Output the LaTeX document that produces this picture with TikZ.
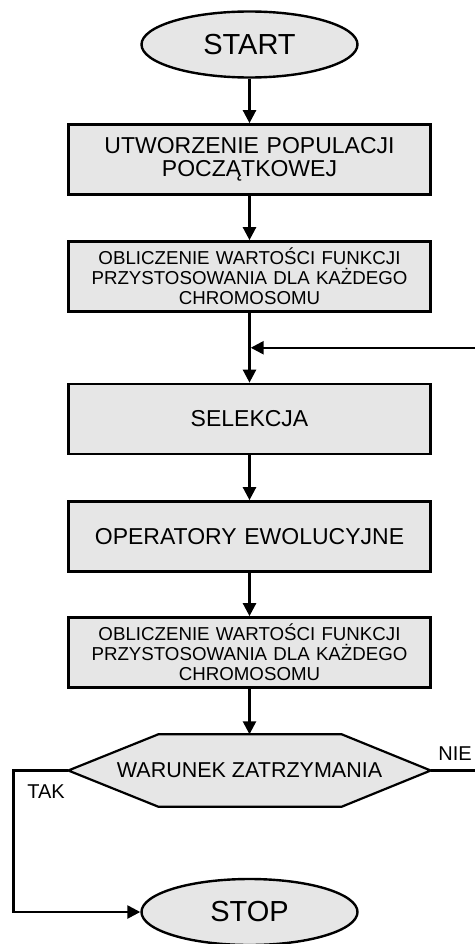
\documentclass[tikz,border=0pt]{standalone}
\usepackage{fontspec}
\setmainfont{Liberation Sans}
\usetikzlibrary{shapes,arrows.meta,positioning,calc,backgrounds}
\definecolor{gafill}{HTML}{E6E6E6}

\begin{document}
\begin{tikzpicture}[x=1pt, y=-1pt,
    terminal/.style={draw, ellipse, fill=gafill, line width=2.4pt, minimum width=216pt, minimum height=66pt, inner sep=0pt, font=\fontsize{29}{30}\selectfont},
    block/.style={draw, rectangle, fill=gafill, line width=2.7pt, minimum width=362pt, minimum height=70pt, inner sep=0pt, text width=355pt, align=center, font=\fontsize{23}{23.5}\selectfont},
    smallblock/.style={block, font=\fontsize{18.7}{20}\selectfont},
    decision/.style={minimum width=362pt, minimum height=72pt, inner sep=0pt, font=\fontsize{21.5}{22}\selectfont},
    answer/.style={inner sep=0pt, font=\fontsize{20}{20}\selectfont},
    arrow/.style={-{Triangle[length=13pt, width=13pt]}, line width=2.5pt}
]
    \useasboundingbox (0,0) rectangle (474,944);

    \node[terminal] (start) at (249.5,44.5) {START};
    \node[block] (init) at (249.5,159.5) {UTWORZENIE POPULACJI\\POCZĄTKOWEJ};
    \node[smallblock] (eval1) at (249.5,276.5) {OBLICZENIE WARTOŚCI FUNKCJI\\PRZYSTOSOWANIA DLA KAŻDEGO\\CHROMOSOMU};
    \node[block] (sel) at (249.5,419) {SELEKCJA};
    \node[block] (ops) at (249.5,536.5) {OPERATORY EWOLUCYJNE};
    \node[smallblock] (eval2) at (249.5,652.5) {OBLICZENIE WARTOŚCI FUNKCJI\\PRZYSTOSOWANIA DLA KAŻDEGO\\CHROMOSOMU};
    \node[decision] (cond) at (249.5,770.5) {WARUNEK ZATRZYMANIA};
    \node[terminal] (stop) at (249.5,912) {STOP};

    % hexagon behind the stop condition
    \begin{scope}[on background layer]
        \draw[fill=gafill, line width=2.2pt] (cond.west) -- ([xshift=90pt]cond.north west) -- ([xshift=-89pt]cond.north east)
            -- (cond.east) -- ([xshift=-89pt]cond.south east) -- ([xshift=90pt]cond.south west) -- cycle;
    \end{scope}

    \node[answer] (tak) at (46,792) {TAK};
    \node[answer] (nie) at (455,754) {NIE};

    \coordinate (merge) at ($(eval1.south)!.5!(sel.north)$);

    \draw[arrow] (start) -- (init);
    \draw[arrow] (init) -- (eval1);
    \draw[arrow] (eval1) -- (sel);
    \draw[arrow] (sel) -- (ops);
    \draw[arrow] (ops) -- (eval2);
    \draw[arrow] (eval2) -- (cond);
    \draw[arrow] (cond.west) -- ++(-55,0) |- (stop.west);
    \draw[arrow] (cond.east) -- ++(50,0) |- ([xshift=1.2pt]merge);
\end{tikzpicture}
\end{document}
